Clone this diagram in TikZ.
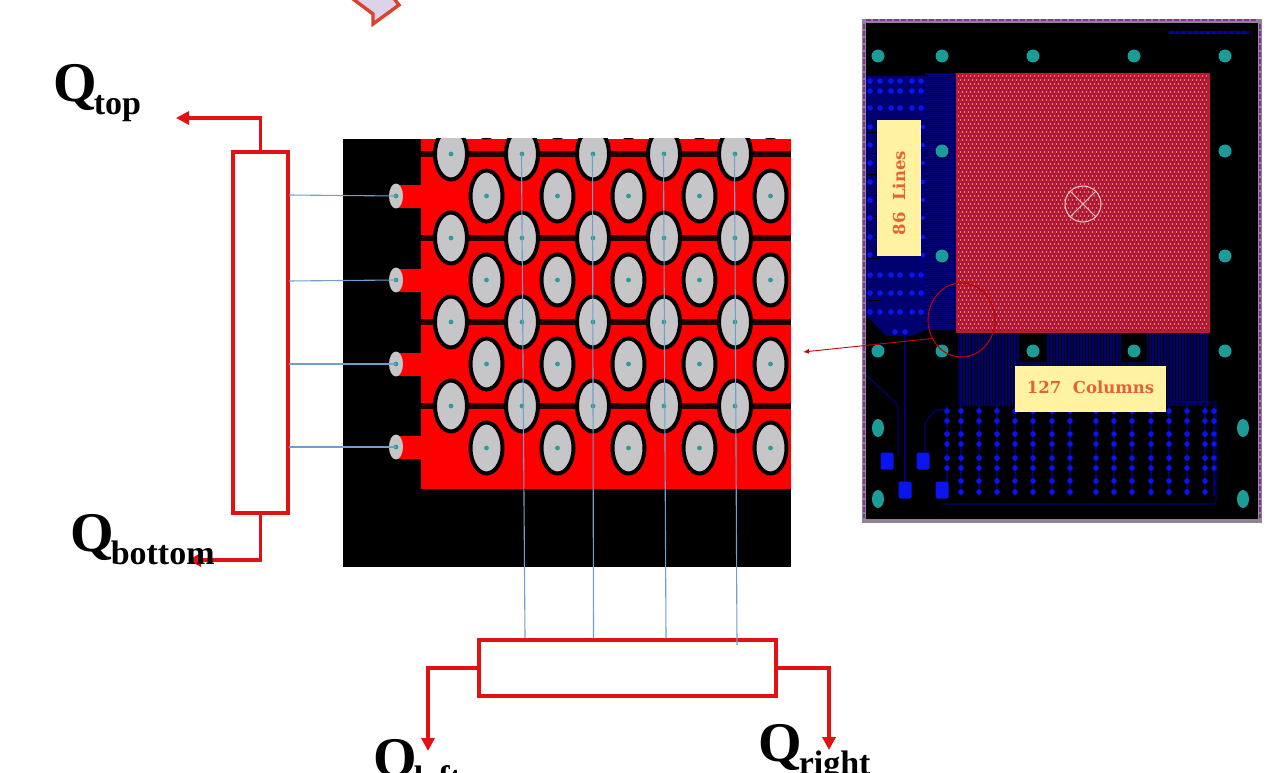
\documentclass[tikz,border=0pt]{standalone}
\usepackage{fontspec}
\setmainfont{Liberation Serif}
\newfontfamily\pcbfont{DejaVu Serif}
\usetikzlibrary{arrows.meta,shapes.geometric}
\definecolor{flowred}{HTML}{E31212}
\definecolor{wireblue}{HTML}{6F9FCB}
\definecolor{padgrey}{HTML}{C6C6C8}
\definecolor{viateal}{HTML}{2E9C98}
\definecolor{pcbteal}{HTML}{1C9C98}
\definecolor{navy}{HTML}{00006E}
\definecolor{viablue}{HTML}{0A14F0}
\definecolor{noteyellow}{HTML}{FFF2A0}
\definecolor{noteink}{HTML}{E2633A}
\definecolor{meshred}{HTML}{C0182E}
\definecolor{meshlight}{HTML}{D8808C}
\definecolor{meshdark}{HTML}{5A2450}
\definecolor{calloutfill}{HTML}{DCD3EA}
\definecolor{calloutline}{HTML}{D9432A}
\definecolor{framegrey}{HTML}{8E8494}
\definecolor{framepurple}{HTML}{8A2FA0}
\tikzset{
  flowbox/.style={draw=flowred,line width=4pt,fill=white,inner sep=0pt},
  flowline/.style={draw=flowred,line width=3.6pt,-{Triangle[length=13pt,width=13pt]}},
  wire/.style={draw=wireblue,line width=1.1pt},
  qlabel/.style={anchor=base west,inner sep=0pt,font=\bfseries\fontsize{56}{56}\selectfont},
  note/.style={fill=noteyellow,inner sep=0pt,text=noteink,font=\pcbfont\bfseries\fontsize{16.5}{18}\selectfont},
  bigpad/.style={fill=padgrey,draw=black,line width=4pt},
  drill/.style={fill=viateal},
  pcbvia/.style={fill=viablue},
  tab/.style={fill=red},
}
\newcommand{\qsub}[1]{\kern-3pt\lower13pt\hbox{\fontsize{34}{34}\selectfont #1}}
\begin{document}
\begin{tikzpicture}[x=1pt,y=-1pt]
\clip (0,0) rectangle (1266,773);
\fill[white] (0,0) rectangle (1266,773);

% callout fragment at the top
\draw[fill=calloutfill,draw=calloutline,line width=3.4pt,line join=miter]
  (349,-4) -- (373,14) -- (373,24) -- (399,5) -- (392,-4) -- cycle;

% ---------- enlarged sensor image ----------
\fill[black] (343,139) rectangle (791,567);
\begin{scope}
\clip (343,139) rectangle (791,567);
\fill[red] (421,139) rectangle (791,489);
\foreach \ty in {196,280,364,447} \fill[tab] (396,\ty-11.5) rectangle (422,\ty+11.5);
\foreach \ry in {154,238,322,406} \draw[draw=black!85!red,line width=6pt] (421,\ry) -- (791,\ry);
\foreach \cx in {451,522,593,664,735} \foreach \ry in {154,238,322,406} {
  \path[bigpad] (\cx,\ry) ellipse [x radius=16pt,y radius=25.5pt];
  \fill[drill] (\cx,\ry) circle (2.4pt);
}
\foreach \cx in {486.5,557.5,628.5,699.5,770.5} \foreach \ry in {112,196,280,364,448} {
  \path[bigpad] (\cx,\ry) ellipse [x radius=16pt,y radius=25.5pt];
  \fill[drill] (\cx,\ry) circle (2.4pt);
}
\end{scope}
\foreach \n/\py in {1/196,2/280,3/364,4/447} {
  \node[ellipse,fill=padgrey,minimum width=14pt,minimum height=25pt,inner sep=0pt] (pad\n) at (396,\py) {};
  \fill[drill] (396,\py) circle (2.4pt);
}

% readout boxes
\node[flowbox,minimum width=55pt,minimum height=361pt] (lbox) at (260.5,332.5) {};
\node[flowbox,minimum width=297pt,minimum height=56pt] (bbox) at (627.5,668) {};

% wires
\coordinate (h1) at (289,195);
\coordinate (h2) at (289,281);
\coordinate (h3) at (289,364);
\coordinate (h4) at (289,447);
\draw[wire] (h1) -- (pad1.center);
\draw[wire] (h2) -- (pad2.center);
\draw[wire] (h3) -- (pad3.center);
\draw[wire] (h4) -- (pad4.center);
\coordinate (va) at (521.5,154); \coordinate (vab) at (525,638);
\coordinate (vb) at (592.5,154); \coordinate (vbb) at (593.5,638);
\coordinate (vc) at (663.5,154); \coordinate (vcb) at (666,638);
\coordinate (vd) at (734.5,154); \coordinate (vdb) at (737,645);
\draw[wire] (va) -- (vab);
\draw[wire] (vb) -- (vbb);
\draw[wire] (vc) -- (vcb);
\draw[wire] (vd) -- (vdb);

% outputs
\coordinate (otop) at (176,118);
\coordinate (obot) at (188,560);
\coordinate (oleft) at (428,751);
\coordinate (oright) at (829,750);
\draw[flowline] (lbox.north) |- (otop);
\draw[flowline] (lbox.south) |- (obot);
\draw[flowline] (bbox.west) -| (oleft);
\draw[flowline] (bbox.east) -| (oright);

\node[qlabel] (qtop) at (53,102) {Q\qsub{top}};
\node[qlabel] (qbottom) at (70,551) {Q\qsub{bottom}};
\node[qlabel] (qleft) at (373,776) {Q\qsub{left}};
\node[qlabel] (qright) at (758,761) {Q\qsub{right}};

% ---------- PCB layout ----------
\fill[black] (862,19) rectangle (1262,523);
% left routing field
\fill[navy] (866,73) -- (956,73) -- (956,330) -- (925,330) -- (912,336) -- (886,336) -- (866,315) -- cycle;
\foreach \k in {0,...,62} \draw[black,line width=.8pt] (924,75+\k*4) -- (956,75+\k*4);
\foreach \k in {0,...,9} \draw[black,line width=.8pt] (868,111+\k*21) -- (880,111+\k*21);
\fill[black] (866,73) rectangle (925,76);
% bottom routing channel
\fill[navy] (958,333) rectangle (1208,406);
\foreach \k in {0,...,83} \draw[black,line width=.6pt] (959+\k*3,333) -- (959+\k*3,406);
\fill[black] (1020,333) rectangle (1046,362);
\fill[black] (1121,333) rectangle (1147,362);
% bottom via field
\draw[navy,line width=1.2pt,rounded corners=3pt] (941,504) -- (1216,504) -- (1216,402) -- (1170,402);
\draw[navy,line width=1.2pt,rounded corners=3pt] (925,452) -- (925,422) -- (936,410) -- (945,410);
\draw[navy,line width=1.2pt,rounded corners=3pt] (905,332) -- (905,482);
\draw[navy,line width=1.2pt,rounded corners=3pt] (866,375) -- (898,405) -- (898,455);
\foreach \cx in {947,961,979,997,1015,1033,1052,1070,1096,1114,1132,1151,1169,1187,1205,1214} {
  \draw[navy,line width=2.6pt] (\cx,405) -- (\cx,496);
}
\foreach \cx in {947,961,979,997,1015,1033,1052,1070,1096,1114,1132,1151,1169,1187,1205,1214}
  \foreach \vy in {411,421,434,444,458,468} \fill[pcbvia] (\cx,\vy) circle (2.8pt);
\foreach \cx in {961,979,997,1015,1033,1052,1070,1096,1114,1132,1151,1169,1187,1205}
  \foreach \vy in {481,492} \fill[pcbvia] (\cx,\vy) circle (2.8pt);
% left vias
\foreach \vy in {81,91,108,275,293,312} \foreach \cx in {870,880,891,900,912,921} \fill[pcbvia] (\cx,\vy) circle (2.8pt);
\foreach \vy in {127,145,163,182,200,218,237,255} {
  \fill[pcbvia] (870,\vy) circle (2.8pt);
  \fill[pcbvia] (923,\vy) circle (2.2pt);
}
\fill[pcbvia] (895,332) circle (2.8pt) (905,332) circle (2.8pt);
% blue pads
\foreach \bx/\by in {887/461,923/461,905/490,942/490}
  \fill[pcbvia,rounded corners=1.5pt] (\bx-6.5,\by-8.5) rectangle (\bx+6.5,\by+8.5);
% mesh block
\fill[meshred] (956,73) rectangle (1210,333);
\foreach \k in {0,...,63} {
  \pgfmathsetmacro{\yy}{int(76+\k*4)}
  \pgfmathsetmacro{\ph}{mod(\k,2)*2}
  \draw[draw=meshdark,line width=1.2pt,dash pattern=on 1.4pt off 2.6pt,dash phase=\ph pt] (958,\yy+2) -- (1208,\yy+2);
  \draw[draw=meshlight,line width=1.2pt,dash pattern=on 1.4pt off 2.6pt,dash phase=\ph pt] (958,\yy) -- (1208,\yy);
}
% teal marks
\foreach \tx/\ty in {878/56,942/56,1033/56,1134/56,1225/56,942/151,1225/151,942/256,1225/256,878/351,942/351,1033/351,1134/351,1225/351}
  \fill[pcbteal] (\tx,\ty) circle (6.5pt);
\foreach \tx/\ty in {878/428,878/499,1243/428,1243/499}
  \fill[pcbteal] (\tx,\ty) ellipse [x radius=6pt,y radius=9pt];
% fiducial
\draw[draw=red!20!white,line width=1pt] (1083,204) circle (18pt)
  (1071,192) -- (1095,216) (1095,192) -- (1071,216);
% unreadable layout title
\draw[draw=blue!75!black,line width=3pt,dash pattern=on 5pt off 1pt] (1169,33) -- (1249,33);
% frame
\draw[draw=framegrey,line width=4pt] (864,21) rectangle (1260,521);
\draw[draw=framepurple,line width=2pt,dash pattern=on 5pt off 2pt] (864,24) -- (864,518) (1260,24) -- (1260,518) (866,20.5) -- (1258,20.5);
% labels
\node[note,minimum width=44pt,minimum height=135pt] (lines) at (899,188) {\rotatebox{90}{86\ \ Lines\hspace{10pt}}};
\node[note,minimum width=151pt,minimum height=46pt] (cols) at (1090.5,389) {\raisebox{3pt}{127\ \ Columns}};
% zoom marker
\node[ellipse,draw=red!75!black,line width=1.1pt,minimum width=67pt,minimum height=74pt,inner sep=0pt] (ring) at (961.5,320) {};
\coordinate (zoomtip) at (803,352);
\draw[draw=red!80!black,line width=.9pt,-{Latex[length=6pt,width=5pt]}] (ring.212) -- (zoomtip);
\end{tikzpicture}
\end{document}
